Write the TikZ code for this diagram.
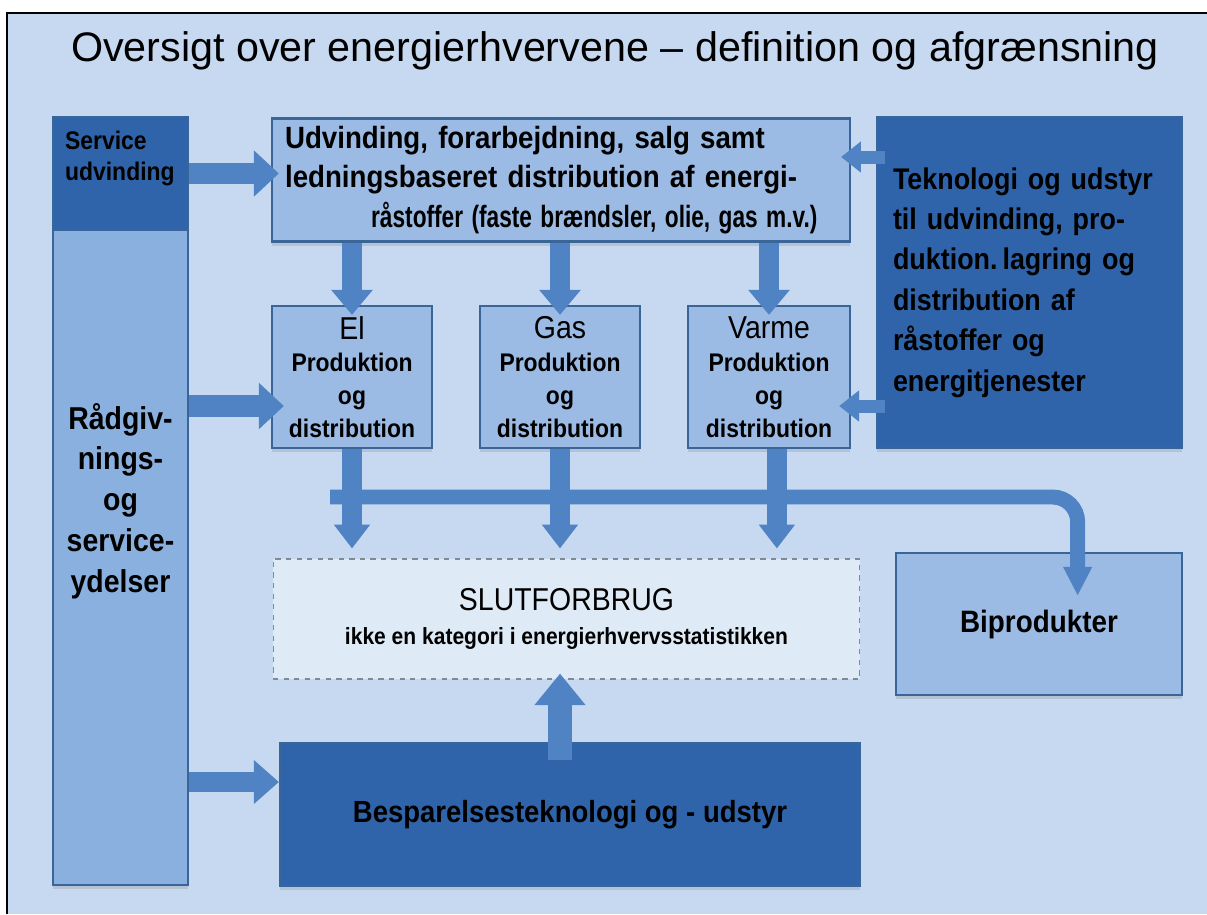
\documentclass[tikz,border=0pt]{standalone}
\usepackage{fontspec}
\setmainfont{Liberation Sans}
\newfontfamily\narrowfont[FakeStretch=0.9]{Liberation Sans}
\usetikzlibrary{arrows.meta,shadows}

\definecolor{bgblue}{HTML}{C6D9F0}
\definecolor{darkblue}{HTML}{2F64AB}
\definecolor{boxedge}{HTML}{3A6599}
\definecolor{lightbox}{HTML}{9BBBE4}
\definecolor{colblue}{HTML}{8AB0E0}
\definecolor{slutfill}{HTML}{DEEBF6}
\definecolor{slutedge}{HTML}{7F8A95}
\definecolor{arrowblue}{HTML}{5083C3}

\newcommand\headword[1]{{\mdseries\fontsize{18}{18.7}\selectfont #1}}

\tikzset{
  box/.style={draw=boxedge, line width=1.3pt, fill=lightbox, align=center, inner sep=3pt},
  darkbox/.style={box, fill=darkblue},
  shadowed/.style={drop shadow={opacity=0.25, shadow xshift=0pt, shadow yshift=-2.5pt}},
  txt/.style 2 args={font=\narrowfont\bfseries\fontsize{#1}{#2}\selectfont},
  blockarrow/.style n args={3}{draw=arrowblue, line width=#1, -{Triangle[width=#2, length=#3]}},
}

\begin{document}
\begin{tikzpicture}[x=0.02cm, y=-0.02cm]
  \useasboundingbox (0,0) rectangle (1207,914);
  \fill[white] (0,0) rectangle (1207,914);
  \fill[bgblue] (7,13) rectangle (1207,914);
  \draw[line width=0.9pt] (7,914) |- (1207,13);

  \node[font=\fontsize{23.5}{28}\selectfont] (title) at (615,51)
    {Oversigt over energierhvervene – definition og afgrænsning};

  % left column
  \node[box, shadowed, fill=colblue, minimum width=2.7cm, minimum height=15.36cm,
    txt={18}{23.2}] (raad) at (120.5,501) {Rådgiv-\\nings-\\og\\service-\\ydelser};
  \node[darkbox, minimum width=2.7cm, minimum height=2.26cm,
    label={[anchor=north west, align=left, txt={14.5}{18}, xshift=4pt, yshift=-5pt]north west:Service\\udvinding}]
    (svc) at (120.5,173.5) {};

  % top row
  \node[box, shadowed, minimum width=11.56cm, minimum height=2.46cm, text width=11.04cm,
    align=left, txt={17.5}{22.7}] (udv) at (561,180)
    {Udvinding, forarbejdning, salg samt\\ledningsbaseret distribution af energi-\\\hspace*{49pt}\scalebox{0.82}[1]{råstoffer (faste brændsler, olie, gas m.v.)}};
  \node[darkbox, shadowed, minimum width=6.1cm, minimum height=6.62cm, text width=5.46cm,
    align=left, txt={17}{23}] (tek) at (1029.5,282.5)
    {Teknologi og udstyr\\til udvinding, pro-\\duktion.\,lagring og\\distribution af\\råstoffer og\\energitjenester};

  % el, gas, varme
  \node[box, shadowed, minimum width=3.2cm, minimum height=2.84cm, txt={14.5}{18.7}] (el) at (352,377)
    {\headword{El}\\Produktion\\og\\distribution};
  \node[box, shadowed, minimum width=3.2cm, minimum height=2.84cm, txt={14.5}{18.7}] (gas) at (560,377)
    {\headword{Gas}\\Produktion\\og\\distribution};
  \node[box, shadowed, minimum width=3.24cm, minimum height=2.84cm, txt={14.5}{18.7}] (varme) at (769,377)
    {\headword{Varme}\\Produktion\\og\\distribution};

  % bottom
  \node[draw=slutedge, dashed, line width=0.6pt, fill=slutfill, minimum width=11.74cm, minimum height=2.4cm,
    align=center, txt={13.3}{19.3}] (slut) at (566.5,619)
    {{\mdseries\fontsize{18}{19}\selectfont SLUTFORBRUG}\\ikke en kategori i energierhvervsstatistikken};
  \node[box, shadowed, minimum width=5.72cm, minimum height=2.84cm, txt={17.6}{22}] (bip) at (1039,624) {Biprodukter};
  \node[darkbox, shadowed, minimum width=11.6cm, minimum height=2.86cm, txt={17.4}{22}] (besp) at (570,814.5)
    {Besparelsesteknologi og - udstyr};

  % arrows
  \draw[blockarrow={12.5pt}{25.5pt}{14.2pt}, shorten >=-4.5pt] (svc.east) -- (udv.west |- svc.east);
  \foreach \n in {el,gas,varme}
    \draw[blockarrow={11.3pt}{22.7pt}{14.2pt}, shorten >=-5.7pt] (udv.south -| \n) -- (\n.north);

  \coordinate (tekin1) at (885,157);
  \coordinate (tekin2) at (885,406);
  \draw[blockarrow={7.4pt}{17pt}{11.3pt}, shorten >=-5.7pt] (tekin1) -- (udv.east |- tekin1);
  \draw[blockarrow={7.4pt}{17pt}{11.3pt}, shorten >=-6.8pt] (tekin2) -- (varme.east |- tekin2);

  \draw[blockarrow={12.5pt}{25.5pt}{14.2pt}, shorten >=-7.4pt] (raad.east |- 0,406) -- (el.west |- 0,406);
  \draw[blockarrow={11.3pt}{24pt}{14.2pt}] (raad.east |- 0,782) -- (besp.west |- 0,782);

  \draw[blockarrow={11.3pt}{19.8pt}{13.6pt}, shorten >=5.7pt] (el.south) -- (slut.north -| el);
  \draw[blockarrow={11.3pt}{19.8pt}{13.6pt}, shorten >=5.7pt] (gas.south) -- (slut.north -| gas);
  \path ([xshift=4.5pt]varme.south) coordinate (varmeout);
  \draw[blockarrow={11.3pt}{19.8pt}{13.6pt}, shorten >=5.7pt] (varmeout) -- (slut.north -| varmeout);

  \coordinate (barstart) at (330,497);
  \draw[blockarrow={8.5pt}{15.3pt}{16.4pt}, rounded corners=0.5cm, shorten >=-25pt]
    (barstart) -| ([xshift=22pt]bip.north);

  \coordinate (bespup) at (560,760);
  \draw[blockarrow={13.6pt}{28pt}{18pt}, shorten >=-3.4pt] (bespup) -- (bespup |- slut.south);
\end{tikzpicture}
\end{document}
